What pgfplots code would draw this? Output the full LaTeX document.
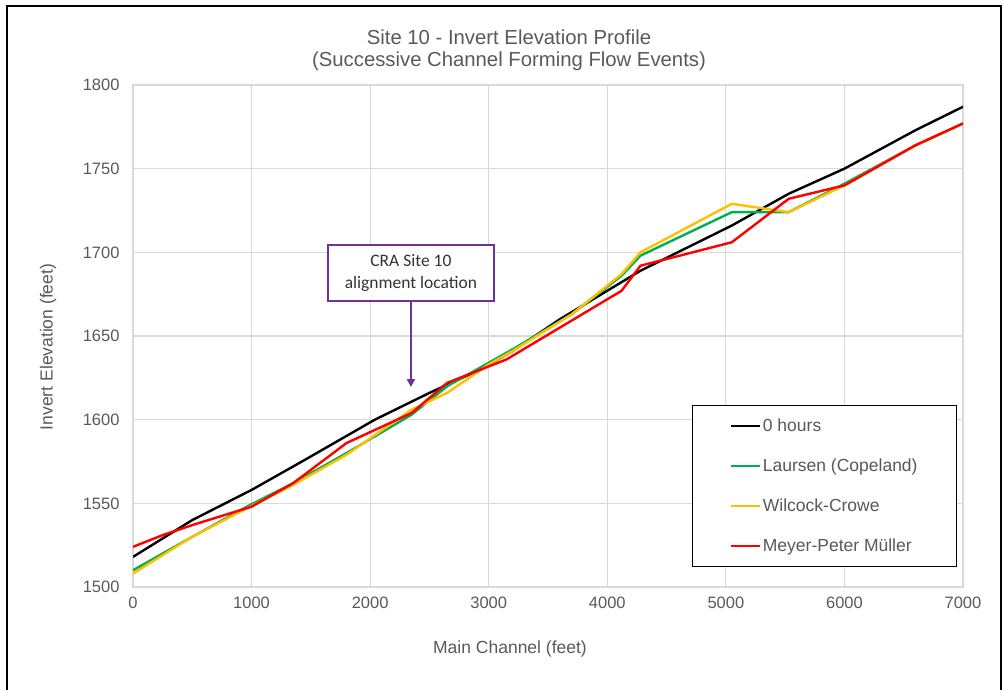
\documentclass[border=0pt]{standalone}
\usepackage{fontspec}
\setmainfont{Liberation Sans}
\newfontfamily\calibri{Carlito}
\usepackage{pgfplots}
\pgfplotsset{compat=1.18}
\usetikzlibrary{arrows.meta}
\definecolor{txtgray}{HTML}{595959}
\definecolor{gridgray}{HTML}{D9D9D9}
\definecolor{lgreen}{HTML}{00B050}
\definecolor{lyellow}{HTML}{FFC000}
\definecolor{lred}{HTML}{FF0000}
\definecolor{lpurple}{HTML}{7030A0}
\begin{document}
\begin{tikzpicture}
\useasboundingbox (0pt,0pt) rectangle (1003pt,690pt);
\draw[line width=2pt,black] (7pt,-5pt) -- (7pt,684pt) -- (1001pt,684pt) -- (1001pt,-5pt);
\node[text=txtgray,font=\fontsize{20.3}{24}\selectfont] at (509pt,653pt) {Site 10 - Invert Elevation Profile};
\node[text=txtgray,font=\fontsize{20.3}{24}\selectfont] at (509pt,629pt) {(Successive Channel Forming Flow Events)};
\node[text=txtgray,font=\fontsize{17.5}{21}\selectfont] at (510pt,41pt) {Main Channel (feet)};
\node[text=txtgray,font=\fontsize{17.5}{21}\selectfont,rotate=90] at (48pt,343pt) {Invert Elevation (feet)};
\begin{axis}[
  at={(133pt,103pt)}, anchor=south west,
  scale only axis, width=830pt, height=502pt,
  xmin=0, xmax=7000, ymin=1500, ymax=1800,
  xtick={0,1000,...,7000}, ytick={1500,1550,...,1800},
  /pgf/number format/assume math mode=true,
  /pgf/number format/1000 sep={},
  tick label style={text=txtgray,font=\fontsize{16.5}{19}\selectfont},
  yticklabel style={xshift=-10pt},
  xticklabel style={yshift=-6pt},
  major tick length=0pt,
  grid=major,
  major grid style={gridgray,line width=1.2pt},
  axis line style={gridgray,line width=1.2pt},
  every axis plot/.append style={line width=2.4pt,no markers,line join=round},
  legend style={at={(0.993,0.3625)},anchor=north east,draw=black,line width=1.2pt,fill=white,
    inner xsep=37pt,inner ysep=11pt,row sep=22pt,
    font=\fontsize{17.5}{21}\selectfont,text=txtgray},
  legend cell align=left,
  legend image code/.code={\draw[#1] (0pt,0pt) -- (29pt,0pt);},
]
\addplot[black] coordinates {(0,1518) (500,1540) (1000,1558) (1450,1576) (2040,1600) (2500,1616) (2930,1630) (3200,1641) (3600,1660) (4280,1689) (5050,1716) (5530,1735) (6000,1750) (6600,1773) (7000,1787)};
\addlegendentry{0 hours}
\addplot[lgreen] coordinates {(0,1510) (500,1530) (960,1548) (1350,1562) (1800,1580) (2350,1603) (2650,1620) (3000,1634) (3200,1642) (3700,1663) (4120,1686) (4280,1698) (5050,1724) (5530,1724) (6000,1741) (6600,1764) (7000,1777)};
\addlegendentry{Laursen (Copeland)}
\addplot[lyellow] coordinates {(0,1508) (500,1530) (960,1547) (1350,1561) (1800,1579) (2350,1606) (2650,1616) (3000,1633) (3200,1641) (3700,1663) (4120,1687) (4280,1700) (5050,1729) (5530,1724) (6000,1740) (6600,1764) (7000,1777)};
\addlegendentry{Wilcock-Crowe}
\addplot[lred] coordinates {(0,1524) (250,1531) (500,1537) (1000,1548) (1350,1562) (1800,1586) (2350,1604) (2650,1622) (3150,1636) (4120,1677) (4280,1692) (5050,1706) (5530,1732) (6000,1740) (6600,1764) (7000,1777)};
\addlegendentry{Meyer-Peter Müller}
\node[draw=lpurple,line width=1.5pt,fill=white,minimum width=166pt,minimum height=56pt,inner sep=0pt,
  align=center,text=black!80,font=\calibri\fontsize{17.5}{22}\selectfont] (box) at (axis cs:2344,1687.7) {CRA Site 10\\alignment location};
\draw[lpurple,line width=1.5pt,-{Triangle[length=8pt,width=8pt]}] (box.south) -- (axis cs:2344,1619.5);
\end{axis}
\end{tikzpicture}
\end{document}
